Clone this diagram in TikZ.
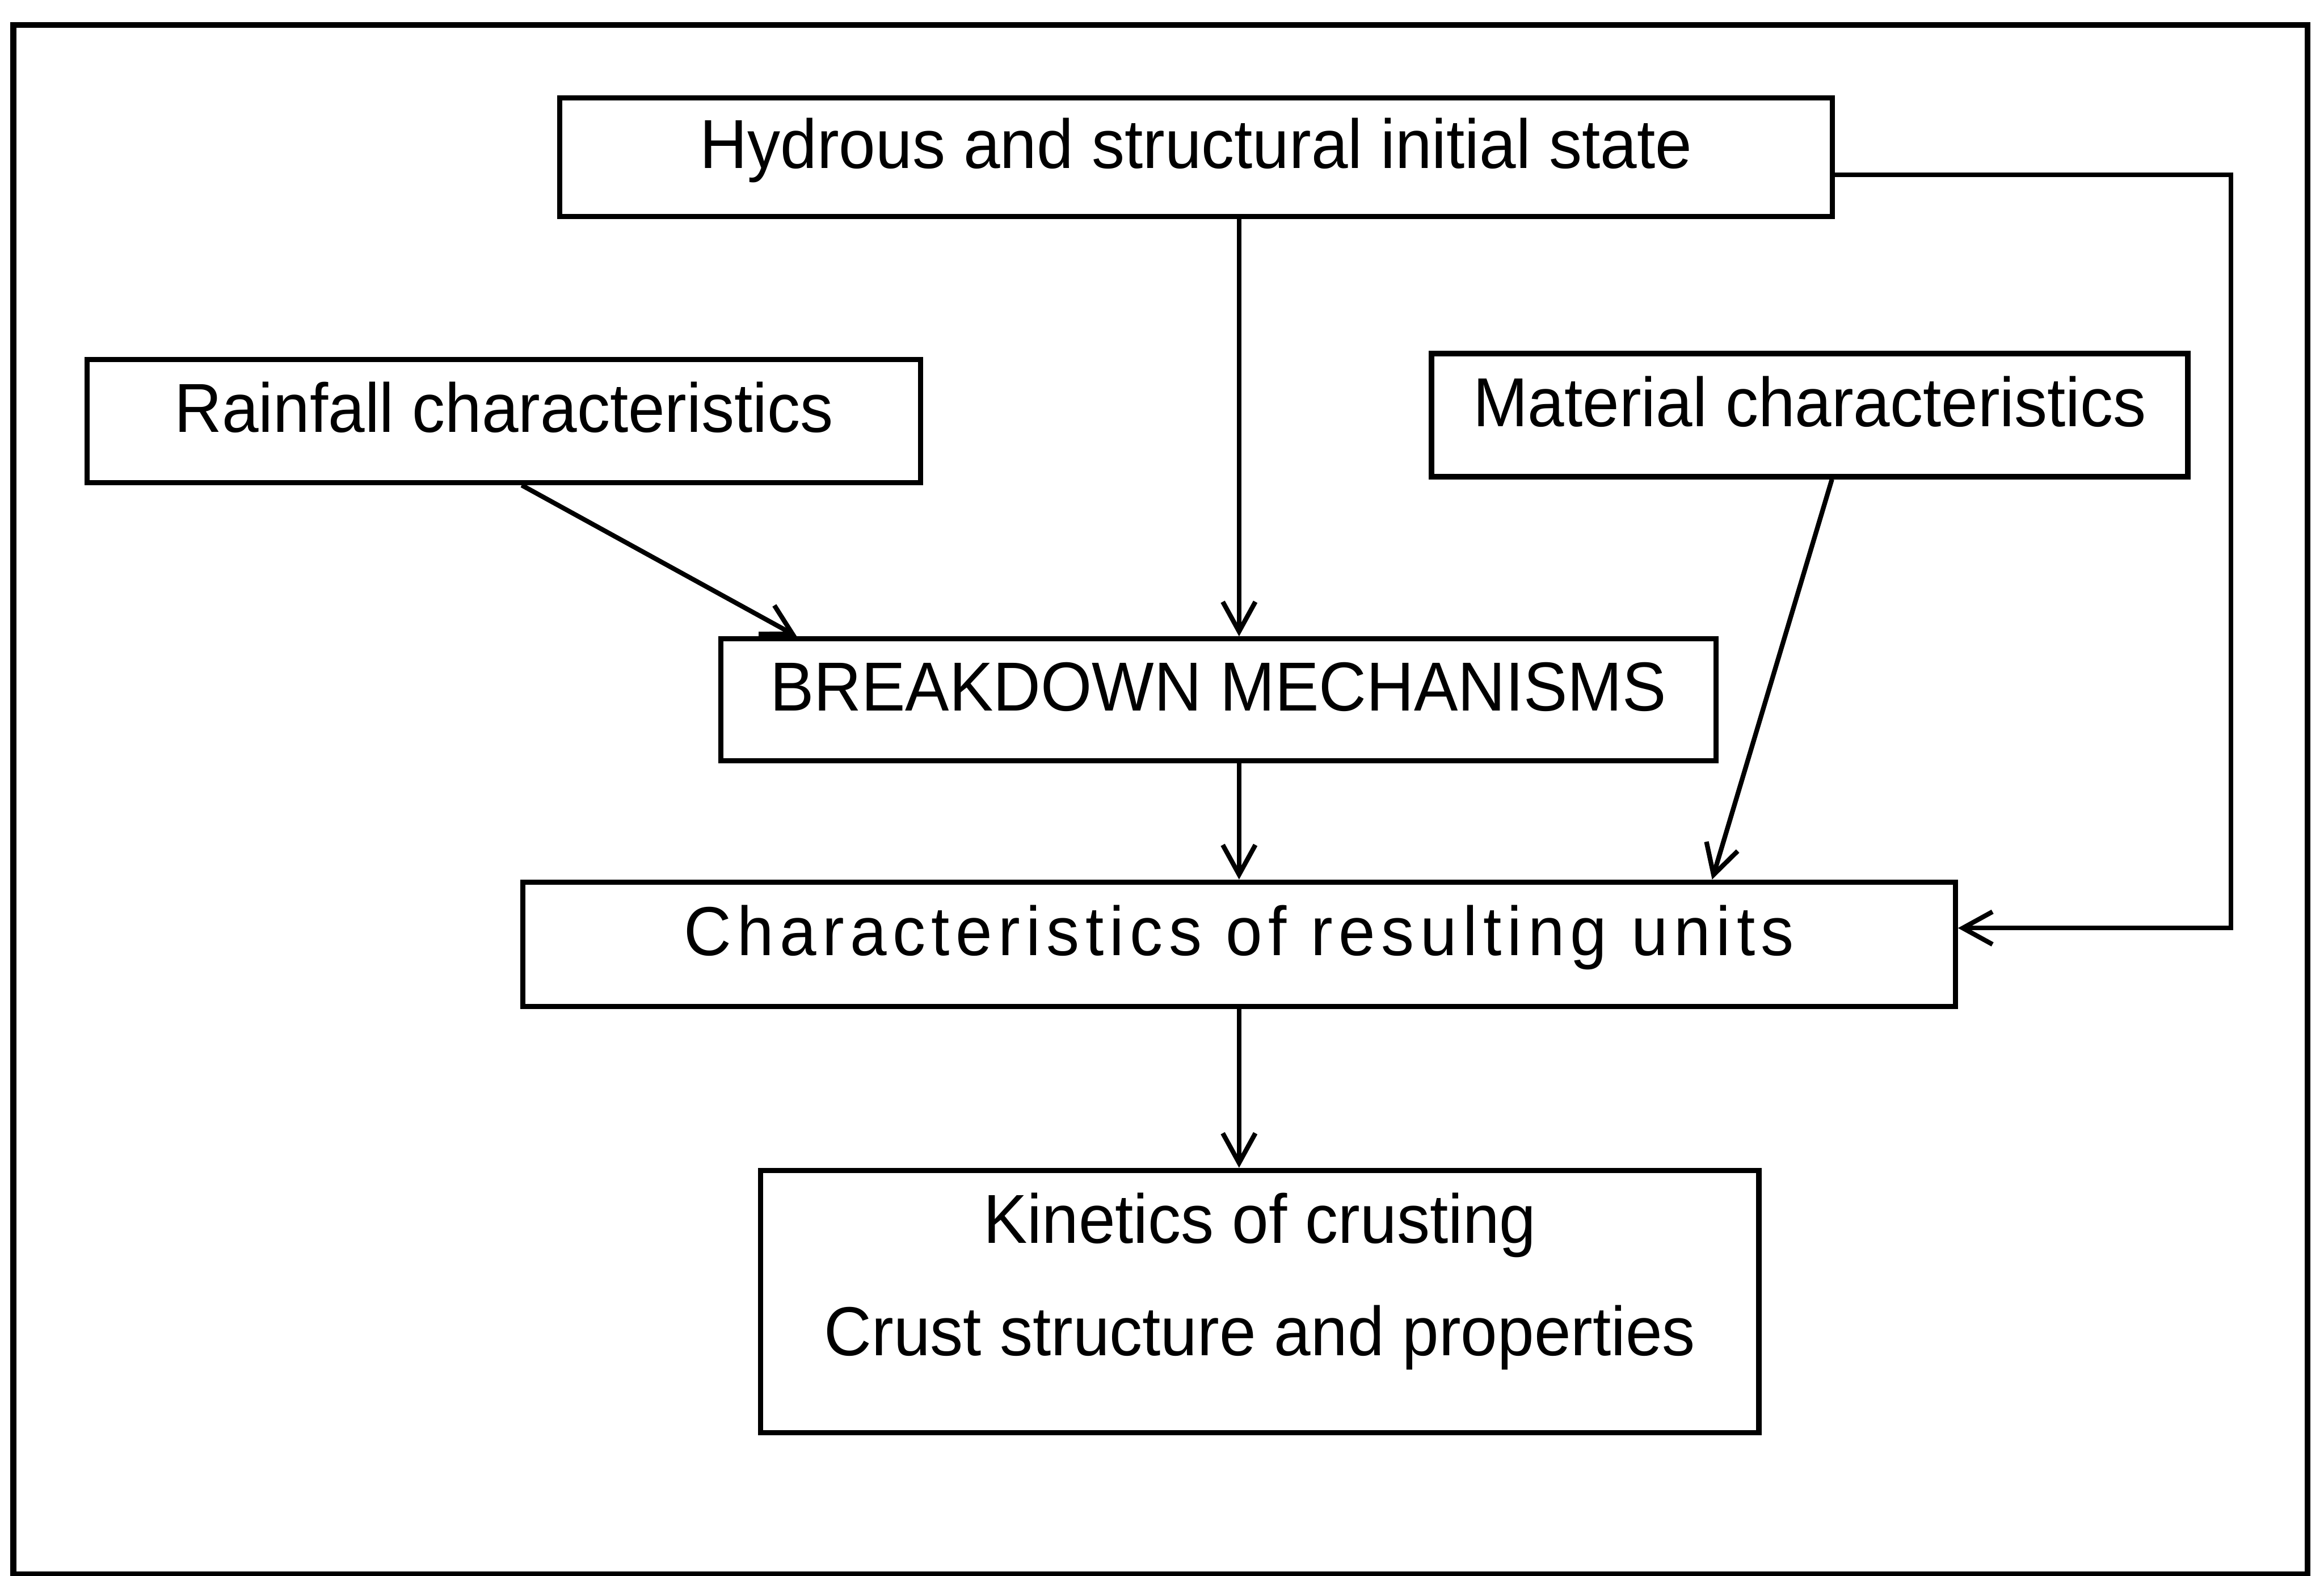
\documentclass[tikz,border=0pt]{standalone}
\usepackage{fontspec}
\setmainfont{Liberation Sans}[FakeStretch=0.95]
\usetikzlibrary{arrows.meta}

\begin{document}
\begin{tikzpicture}[x=0.01cm,y=-0.01cm,>={Straight Barb[length=2mm,width=2.2mm]},
  factorbox/.style={draw,line width=1pt,inner sep=0pt,
    font=\fontsize{13.3}{16}\selectfont,text height=0.36cm,text depth=0.21cm},
  arrow/.style={->,line width=0.9pt}]
\useasboundingbox (0,0) rectangle (1568,1063);
% outer frame
\draw[line width=1.1pt] (9,17) rectangle (1557,1062);
\node[factorbox,minimum width=8.58cm,minimum height=0.8cm] (initial) at (807,106)
  {Hydrous and structural initial state};
\node[factorbox,minimum width=5.62cm,minimum height=0.83cm] (rainfall) at (340,284)
  {Rainfall characteristics};
\node[factorbox,minimum width=5.1cm,minimum height=0.83cm] (material) at (1221,280)
  {Material characteristics};
\node[factorbox,minimum width=6.71cm,minimum height=0.82cm] (breakdown) at (822,472)
  {BREAKDOWN MECHANISMS};
\node[factorbox,minimum width=9.66cm,minimum height=0.84cm,
  font=\fontsize{13.3}{16}\selectfont\addfontfeatures{LetterSpace=8.5}] (units) at (836,637)
  {Characteristics of resulting units};
\node[factorbox,minimum width=6.73cm,minimum height=1.77cm,align=center,
  text height=1.1cm,text depth=0.37cm] (kinetics) at (850,878)
  {Kinetics of crusting\\[5.6pt]Crust structure and properties};
% connectors
\draw[arrow] (initial.south -| units.north) -- (breakdown.north -| units.north);
\draw[arrow] ([xshift=1.2mm]rainfall.south) -- ([xshift=5.3mm]breakdown.north west);
\draw[arrow] ([xshift=1.5mm]material.south) -- ([xshift=3.19cm]units.north);
\draw[arrow] (breakdown.south -| units.north) -- (units.north);
\draw[arrow] ([yshift=-1.2mm]initial.east) -- ++(2.67cm,0) |- ([yshift=1.1mm]units.east);
\draw[arrow] (units.south) -- (kinetics.north -| units.south);
\end{tikzpicture}
\end{document}
